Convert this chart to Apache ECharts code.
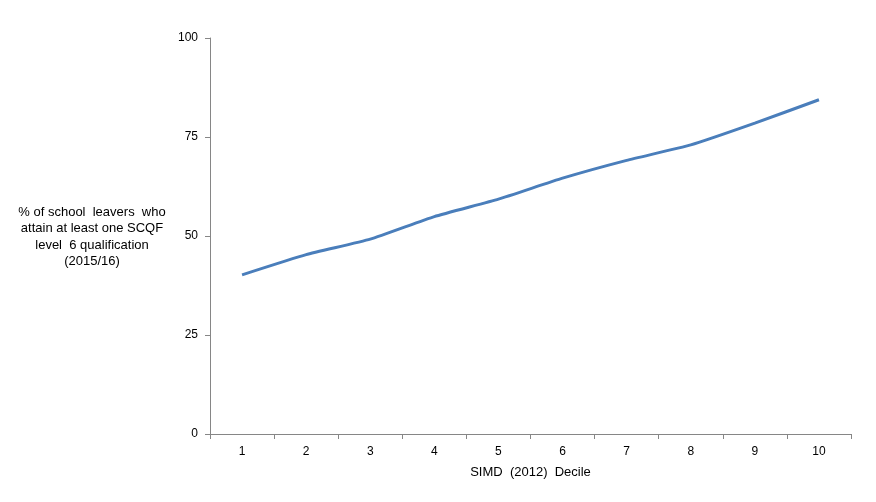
<!DOCTYPE html>
<html>
<head>
<meta charset="utf-8">
<script src="https://cdn.jsdelivr.net/npm/echarts@6/dist/echarts.min.js"></script>
<style>
html, body { margin: 0; padding: 0; background: #fff; }
#main { width: 876px; height: 502px; }
</style>
</head>
<body>
<div id="main"></div>
<script>
// deciles and % of leavers with at least one SCQF level 6
var deciles = ['1', '2', '3', '4', '5', '6', '7', '8', '9', '10'];
var pctLevel6 = [40.2, 45.3, 49.2, 54.9, 59.3, 64.6, 69.1, 73.0, 78.5, 84.4];
var yTicks = [0, 25, 50, 75, 100];

var myChart = echarts.init(document.getElementById('main'));

var option = {
	animation : false,
	textStyle : {
		fontFamily : 'Liberation Sans, Arial, sans-serif'
	},
	grid : {
		left : 210,
		right : 25,
		top : 38,
		bottom : 68
	},
	//y axis title, centred to the left of the axis
	graphic : [ {
		type : 'text',
		x : 92,
		y : 237,
		style : {
			text : '% of school  leavers  who\nattain at least one SCQF\nlevel  6 qualification\n(2015/16)',
			textAlign : 'center',
			textVerticalAlign : 'middle',
			font : '13px Liberation Sans, Arial, sans-serif',
			lineHeight : 16.5,
			fill : '#000'
		}
	} ],
	xAxis : {
		type : 'category',
		data : deciles,
		boundaryGap : true,
		name : 'SIMD  (2012)  Decile',
		nameLocation : 'middle',
		nameGap : 32,
		nameTextStyle : { fontSize : 13, color : '#000' },
		axisLine : { lineStyle : { color : '#868686', width : 1 } },
		axisTick : { show : true, length : 5, alignWithLabel : false, lineStyle : { color : '#868686' } },
		axisLabel : { fontSize : 12, color : '#000', margin : 12 }
	},
	yAxis : {
		type : 'value',
		min : yTicks[0],
		max : yTicks[yTicks.length - 1],
		interval : 25,
		splitLine : { show : false },
		axisLine : { show : true, lineStyle : { color : '#868686', width : 1 } },
		axisTick : { show : true, length : 5, lineStyle : { color : '#868686' } },
		axisLabel : { fontSize : 12, color : '#000', margin : 12 }
	},
	series : [ {
		type : 'line',
		data : pctLevel6,
		smooth : 0.15,
		showSymbol : false,
		lineStyle : { color : '#4a7ebb', width : 3 }
	} ]
};

myChart.setOption(option);
</script>
</body>
</html>
